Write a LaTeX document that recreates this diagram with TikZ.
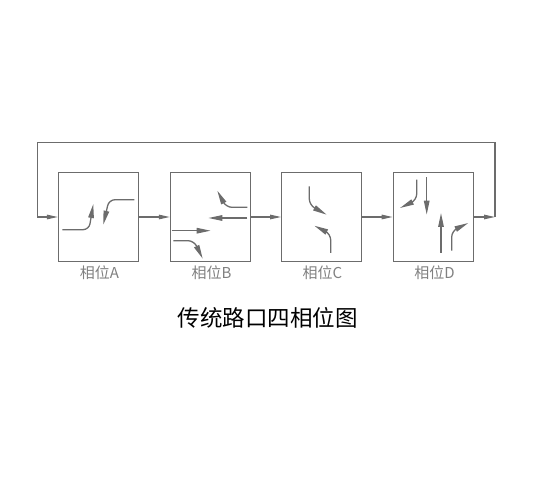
\documentclass[tikz,border=0pt]{standalone}
\usepackage{fontspec}
\newfontfamily\cjk{Noto Sans CJK SC}
\usetikzlibrary{arrows.meta}
\definecolor{ln}{HTML}{6C6C6C}
\definecolor{lb}{HTML}{808080}
\tikzset{
  phasebox/.style={draw=ln, line width=1.2pt, minimum width=80pt, minimum height=89pt, inner sep=0pt},
  conn/.style={draw=ln, line width=1.2pt, -{Triangle[length=11pt,width=4.5pt]}},
  flow/.style={draw=ln, line width=1.3pt, rounded corners=6pt, -{Triangle[length=14pt,width=5.5pt]}},
  lbl/.style={text=lb, font=\cjk\fontsize{15}{17}\selectfont, inner sep=0pt},
  captiontext/.style={text=black, font=\cjk\fontsize{22.5}{26}\selectfont, inner sep=0pt}
}
\begin{document}
\begin{tikzpicture}[x=1pt,y=-1pt]
\useasboundingbox (0,0) rectangle (536,478);
\node[phasebox] (A) at (98.5,217) {};
\node[phasebox] (B) at (210.4,217) {};
\node[phasebox] (C) at (321.7,217) {};
\node[phasebox] (D) at (433.3,217) {};
\coordinate (fr) at (495,217);
\coordinate (tl) at (37.3,142.7);
\draw[conn] (A.east) -- (B.west);
\draw[conn] (B.east) -- (C.west);
\draw[conn] (C.east) -- (D.west);
\draw[conn] (D.east) -- (fr);
\draw[conn] (fr) |- (tl) |- (A.west);
% phase A
\draw[flow] (62.3,229.7) -- (89,229.7) -- (93.3,204);
\draw[flow] (134.3,199.7) -- (109,199.7) -- (103.3,224.7);
% phase B
\draw[flow] (247.3,207.3) -- (226,207.3) -- (217.3,190.7);
\draw[flow] (247.3,218) -- (208.3,218);
\draw[flow] (171.7,230.7) -- (210.7,230.7);
\draw[flow] (173.3,240.7) -- (194,240.7) -- (202.7,258.7);
% phase C
\draw[flow] (309.3,186.3) -- (309.3,205) -- (326.7,214.7);
\draw[flow] (330.7,253) -- (330.7,234) -- (314.3,225.7);
% phase D
\draw[flow] (416.7,179.7) -- (416.7,200) -- (400,208);
\draw[flow] (426.7,177.3) -- (426.7,214.7);
\draw[flow] (441,253) -- (441,213);
\draw[flow] (451.7,250.7) -- (451.7,231) -- (468.3,223);
% labels
\node[lbl] (la) at (99.5,272.5) {相位A};
\node[lbl] (lbB) at (211.5,272.5) {相位B};
\node[lbl] (lc) at (322.5,272.5) {相位C};
\node[lbl] (ld) at (434.5,272.5) {相位D};
\node[captiontext] (cp) at (267.5,318) {传统路口四相位图};
\end{tikzpicture}
\end{document}
